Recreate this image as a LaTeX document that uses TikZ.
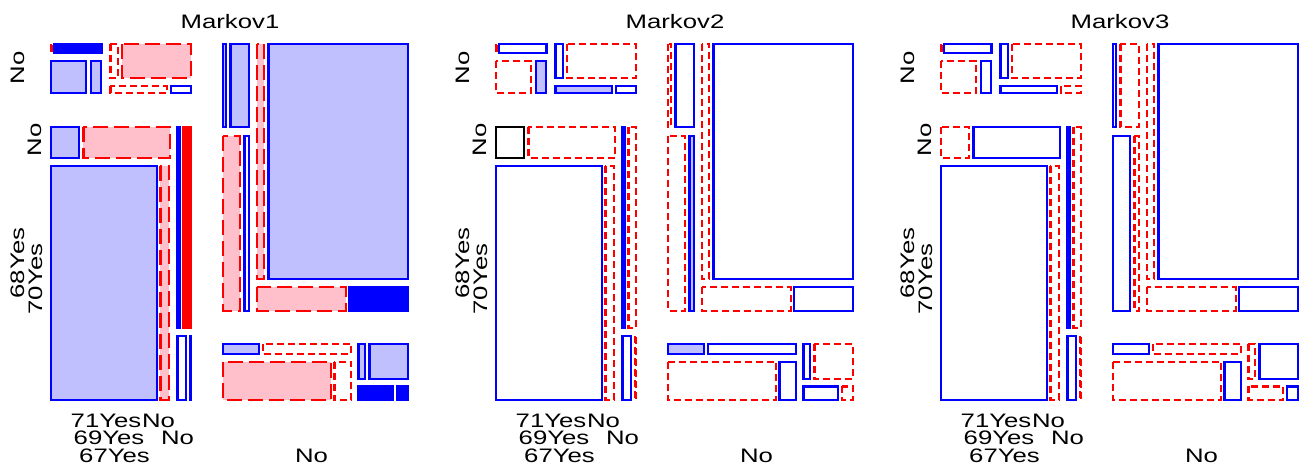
\documentclass[tikz,border=0pt]{standalone}
\usepackage{fontspec}
\newfontfamily\lab{Liberation Sans}[FakeStretch=1.32]
\definecolor{lblue}{RGB}{192,192,255}
\definecolor{lpink}{RGB}{255,192,203}
\tikzset{
  base/.style={line width=2.2pt},
  lb/.style={base,draw=blue,fill=lblue},
  sb/.style={base,draw=blue,fill=blue},
  wb/.style={base,draw=blue},
  bk/.style={base,draw=black},
  pk/.style={base,draw=red,fill=lpink,dash pattern=on 15pt off 6pt},
  sr/.style={base,draw=red,fill=red},
  wr/.style={base,draw=red,dash pattern=on 7pt off 4pt},
  lbl/.style={font=\lab\fontsize{19.5}{19.5}\selectfont,inner sep=0pt}
}
\newcommand\cell[5]{\draw[#5] ({#1+1.1},{#2+1.1}) rectangle ({#3-1.1},{#4-1.1});}
\newcommand\allcells{%
  \cell{49.5}{42.7}{52.6}{54}{cT1}
  \cell{52.5}{42.7}{102.5}{54}{cT2}
  \cell{49.5}{59.7}{87.3}{93.7}{cT3}
  \cell{89.5}{59.7}{102.3}{93.7}{cT4}
  \cell{109.3}{42.7}{119}{79}{cT5}
  \cell{120.7}{42.7}{192}{79}{cT6}
  \cell{109.3}{85}{167.7}{94}{cT7}
  \cell{169.7}{85}{192}{94}{cT8}
  \cell{49.5}{125.7}{80}{158.7}{cB1}
  \cell{82.3}{125.7}{171}{158.7}{cB2}
  \cell{176.3}{125.7}{180.5}{328.7}{cB3}
  \cell{182.3}{125.7}{192}{328.7}{cB4}
  \cell{49.5}{164.7}{157.7}{400.7}{cB5}
  \cell{159.3}{164.7}{170}{400.7}{cB6}
  \cell{176.3}{334.7}{187.3}{400.7}{cB7}
  \cell{189}{334.7}{192.3}{400.7}{cB8}
  \cell{222}{42.7}{227}{128.3}{cR1}
  \cell{229.3}{42.7}{249.7}{128.3}{cR2}
  \cell{255.7}{42.7}{265.3}{280}{cR3}
  \cell{267.3}{42.7}{409}{280}{cR4}
  \cell{222}{135}{241}{311.7}{cR5}
  \cell{243.3}{135}{250}{311.7}{cR6}
  \cell{255.7}{286}{346.7}{311.7}{cR7}
  \cell{348}{286}{409.3}{311.7}{cR8}
  \cell{222}{342.7}{259.7}{355}{cL1}
  \cell{261.7}{342.7}{352.3}{355}{cL2}
  \cell{357.3}{342.7}{366.3}{380}{cL3}
  \cell{368.3}{342.7}{409.3}{380}{cL4}
  \cell{222}{360.7}{332}{401.3}{cL5}
  \cell{333.3}{360.7}{352.3}{401.3}{cL6}
  \cell{357.3}{385.3}{394.3}{401.3}{cL7}
  \cell{395.7}{385.3}{409.3}{401.3}{cL8}
}
\begin{document}
\begin{tikzpicture}[x=1pt,y=-1pt]
\useasboundingbox (0,0) rectangle (1301,464);
% Panel 1
\begin{scope}[cT1/.style={wr},cT2/.style={sb},cT3/.style={lb},cT4/.style={lb},
  cT5/.style={wr},cT6/.style={pk},cT7/.style={wr},cT8/.style={wb},
  cB1/.style={lb},cB2/.style={pk},cB3/.style={lb},cB4/.style={sr},
  cB5/.style={lb},cB6/.style={pk},cB7/.style={wb},cB8/.style={sb},
  cR1/.style={lb},cR2/.style={lb},cR3/.style={pk},cR4/.style={lb},
  cR5/.style={pk},cR6/.style={wb},cR7/.style={pk},cR8/.style={sb},
  cL1/.style={lb},cL2/.style={wr},cL3/.style={lb},cL4/.style={lb},
  cL5/.style={pk},cL6/.style={wr},cL7/.style={sb},cL8/.style={sb}]
\allcells
\end{scope}
% Panel 2
\begin{scope}[shift={(445,0)},cT1/.style={wr},cT2/.style={wb},cT3/.style={wr},cT4/.style={lb},
  cT5/.style={wb},cT6/.style={wr},cT7/.style={lb},cT8/.style={wb},
  cB1/.style={bk},cB2/.style={wr},cB3/.style={sb},cB4/.style={wr},
  cB5/.style={wb},cB6/.style={wr},cB7/.style={wb},cB8/.style={wr},
  cR1/.style={wr},cR2/.style={wb},cR3/.style={wr},cR4/.style={wb},
  cR5/.style={wr},cR6/.style={lb},cR7/.style={wr},cR8/.style={wb},
  cL1/.style={lb},cL2/.style={wb},cL3/.style={wb},cL4/.style={wr},
  cL5/.style={wr},cL6/.style={wb},cL7/.style={wb},cL8/.style={wr}]
\allcells
\end{scope}
% Panel 3
\begin{scope}[shift={(890,0)},cT1/.style={wr},cT2/.style={wb},cT3/.style={wr},cT4/.style={wb},
  cT5/.style={wb},cT6/.style={wr},cT7/.style={wb},cT8/.style={wr},
  cB1/.style={wr},cB2/.style={wb},cB3/.style={wb},cB4/.style={wr},
  cB5/.style={wb},cB6/.style={wr},cB7/.style={wb},cB8/.style={wr},
  cR1/.style={wb},cR2/.style={wr},cR3/.style={wr},cR4/.style={wb},
  cR5/.style={wb},cR6/.style={wr},cR7/.style={wr},cR8/.style={wb},
  cL1/.style={wb},cL2/.style={wr},cL3/.style={wr},cL4/.style={wb},
  cL5/.style={wr},cL6/.style={wb},cL7/.style={wr},cL8/.style={wb}]
\allcells
\end{scope}
% Labels
\foreach \i/\dx in {1/0,2/445,3/890}{
  \begin{scope}[shift={(\dx,0)}]
  \node[lbl,anchor=base] (title\i) at (230,28) {Markov\i};
  \node[lbl,rotate=90,anchor=base] (ya\i) at (24,68) {No};
  \node[lbl,rotate=90,anchor=base] (yb\i) at (41,140) {No};
  \node[lbl,rotate=90,anchor=base] (yc\i) at (24,263) {68Yes};
  \node[lbl,rotate=90,anchor=base] (yd\i) at (42,279) {70Yes};
  \node[lbl,anchor=base] (xa\i) at (106,427) {71Yes};
  \node[lbl,anchor=base] (xb\i) at (158.5,427) {No};
  \node[lbl,anchor=base] (xc\i) at (109,444) {69Yes};
  \node[lbl,anchor=base] (xd\i) at (177.5,444) {No};
  \node[lbl,anchor=base] (xe\i) at (114.5,462) {67Yes};
  \node[lbl,anchor=base] (xf\i) at (311.5,462) {No};
  \end{scope}
}
\end{tikzpicture}
\end{document}
